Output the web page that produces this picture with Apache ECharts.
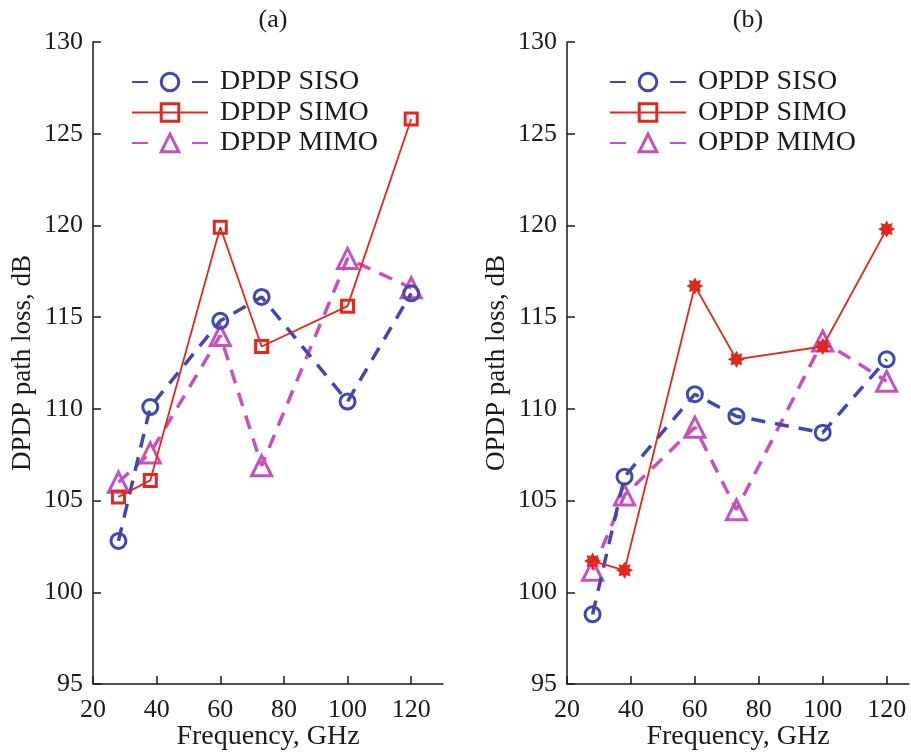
<!DOCTYPE html>
<html>
<head>
<meta charset="utf-8">
<script src="https://cdn.jsdelivr.net/npm/echarts@6/dist/echarts.min.js"></script>
<style>
  html, body { margin: 0; padding: 0; background: #fff; }
  #chart { width: 911px; height: 753px; }
</style>
</head>
<body>
<div id="chart"></div>
<script>
// Frequencies (GHz) shared by both panels
const freq = [28, 38, 60, 73, 100, 120];

// Panel (a): DPDP path loss, dB
const dpdpSiso = [102.8, 110.1, 114.8, 116.1, 110.4, 116.3];
const dpdpSimo = [105.2, 106.1, 119.9, 113.4, 115.6, 125.8];
const dpdpMimo = [106.0, 107.6, 114.0, 106.9, 118.2, 116.6];

// Panel (b): OPDP path loss, dB
const opdpSiso = [98.8, 106.3, 110.8, 109.6, 108.7, 112.7];
const opdpSimo = [101.7, 101.2, 116.7, 112.7, 113.4, 119.8];
const opdpMimo = [101.2, 105.3, 109.0, 104.5, 113.7, 111.5];

// Axis ticks
const yTicks = { min: 95, max: 130, step: 5 };
const xTicks = { min: 20, step: 20 };

const BLUE = '#4048b0';
const RED = '#e0281e';
const MAGENTA = '#c850bc';
const FONT = '"Liberation Serif", "DejaVu Serif", serif';
const INK = '#1a1a1a';

// 8-pointed burst used for the OPDP SIMO markers
function burstPath() {
  const pts = [];
  for (let k = 0; k < 16; k++) {
    const a = -Math.PI / 2 + k * Math.PI / 8;
    const r = k % 2 === 0 ? 12 : 7.5;
    pts.push((12 + r * Math.cos(a)).toFixed(2) + ' ' + (12 + r * Math.sin(a)).toFixed(2));
  }
  return 'path://M' + pts.join(' L') + ' Z';
}
const BURST = burstPath();

const pair = (ys) => freq.map((f, i) => [f, ys[i]]);

function sisoSeries(name, ys, idx) {
  return {
    name, type: 'line', xAxisIndex: idx, yAxisIndex: idx,
    data: pair(ys), color: BLUE,
    symbol: 'circle', symbolSize: 15,
    lineStyle: { color: BLUE, width: 3.5, type: [14, 10] },
    itemStyle: { color: 'rgba(255,255,255,0)', borderColor: BLUE, borderWidth: 3 },
    z: 3
  };
}
function simoSeries(name, ys, idx, burst) {
  return {
    name, type: 'line', xAxisIndex: idx, yAxisIndex: idx,
    data: burst
      ? pair(ys).map(v => ({ value: v, symbol: BURST, symbolSize: 17,
          itemStyle: { color: RED, borderWidth: 0 } }))
      : pair(ys),
    color: RED,
    symbol: 'rect', symbolSize: 12,
    lineStyle: { color: RED, width: 1.8, type: 'solid' },
    itemStyle: { color: 'rgba(255,255,255,0)', borderColor: RED, borderWidth: 3 },
    z: 4
  };
}
function mimoSeries(name, ys, idx) {
  return {
    name, type: 'line', xAxisIndex: idx, yAxisIndex: idx,
    data: pair(ys), color: MAGENTA,
    symbol: 'triangle', symbolSize: 20,
    lineStyle: { color: MAGENTA, width: 3.5, type: [14, 10] },
    itemStyle: { color: 'rgba(255,255,255,0)', borderColor: MAGENTA, borderWidth: 3 },
    z: 2
  };
}

function xAxis(idx, max) {
  return {
    type: 'value', gridIndex: idx, min: xTicks.min, max, interval: xTicks.step,
    name: 'Frequency, GHz', nameLocation: 'middle', nameGap: 39, nameMoveOverlap: false,
    nameTextStyle: { fontFamily: FONT, fontSize: 28, color: INK },
    axisLine: { show: true, onZero: false, lineStyle: { color: INK, width: 1.5 } },
    axisTick: { show: true, inside: true, length: 8, lineStyle: { color: INK, width: 1.5 } },
    axisLabel: { fontFamily: FONT, fontSize: 26, color: INK, margin: 13, showMaxLabel: false },
    splitLine: { show: false }
  };
}
function yAxis(idx, name) {
  return {
    type: 'value', gridIndex: idx, min: yTicks.min, max: yTicks.max, interval: yTicks.step,
    name, nameLocation: 'middle', nameGap: 57, nameMoveOverlap: false,
    nameTextStyle: { fontFamily: FONT, fontSize: 27, color: INK },
    axisLine: { show: true, onZero: false, lineStyle: { color: INK, width: 1.5 } },
    axisTick: { show: true, inside: true, length: 8, lineStyle: { color: INK, width: 1.5 } },
    axisLabel: { fontFamily: FONT, fontSize: 26, color: INK, margin: 10 },
    splitLine: { show: false }
  };
}
function legend(names, left) {
  const dashed = { type: [16, 44] };
  return {
    orient: 'vertical', left, top: 63,
    itemWidth: 76, itemHeight: 22, itemGap: 2.5,
    data: [
      { name: names[0], lineStyle: dashed },
      { name: names[1] },
      { name: names[2], lineStyle: dashed }
    ],
    itemStyle: { borderWidth: 3 },
    textStyle: { fontFamily: FONT, fontSize: 28, color: INK, padding: [0, 0, 0, 7] }
  };
}

const chart = echarts.init(document.getElementById('chart'), null, { renderer: 'canvas' });
chart.setOption({
  backgroundColor: '#ffffff',
  animation: false,
  title: [
    { text: '(a)', left: 268, top: 2, textAlign: 'center',
      textStyle: { fontFamily: FONT, fontSize: 26, fontWeight: 'normal', color: INK } },
    { text: '(b)', left: 743, top: 2, textAlign: 'center',
      textStyle: { fontFamily: FONT, fontSize: 26, fontWeight: 'normal', color: INK } }
  ],
  grid: [
    { left: 93, top: 42, width: 350, height: 642, outerBoundsMode: 'none', containLabel: false },
    { left: 567, top: 42, width: 342, height: 642, outerBoundsMode: 'none', containLabel: false }
  ],
  xAxis: [xAxis(0, 130), xAxis(1, 127)],
  yAxis: [yAxis(0, 'DPDP path loss, dB'), yAxis(1, 'OPDP path loss, dB')],
  legend: [
    legend(['DPDP SISO', 'DPDP SIMO', 'DPDP MIMO'], 126),
    legend(['OPDP SISO', 'OPDP SIMO', 'OPDP MIMO'], 604)
  ],
  series: [
    sisoSeries('DPDP SISO', dpdpSiso, 0),
    simoSeries('DPDP SIMO', dpdpSimo, 0, false),
    mimoSeries('DPDP MIMO', dpdpMimo, 0),
    sisoSeries('OPDP SISO', opdpSiso, 1),
    simoSeries('OPDP SIMO', opdpSimo, 1, true),
    mimoSeries('OPDP MIMO', opdpMimo, 1)
  ]
});
</script>
</body>
</html>
